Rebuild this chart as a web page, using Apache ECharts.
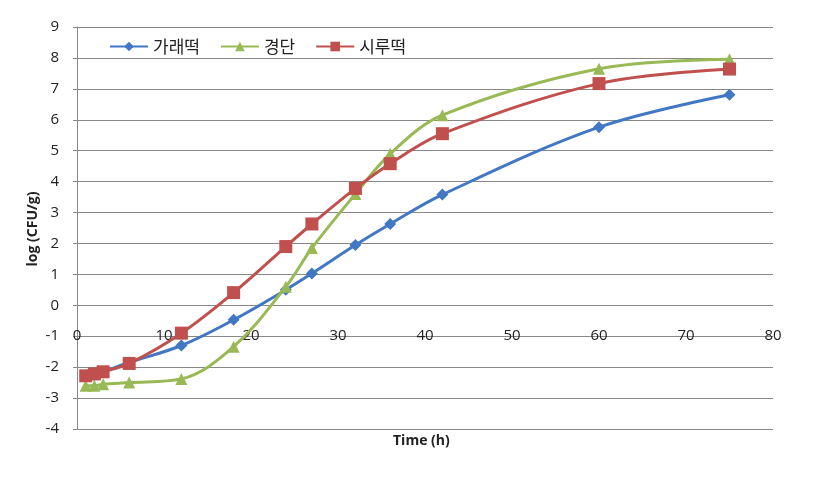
<!DOCTYPE html>
<html>
<head>
<meta charset="utf-8">
<script src="https://cdn.jsdelivr.net/npm/echarts@6/dist/echarts.min.js"></script>
<style>html,body{margin:0;padding:0;background:#fff}#c{width:817px;height:478px}</style>
</head>
<body>
<div id="c"></div>
<script>
const timeH = [1, 2, 3, 6, 12, 18, 24, 27, 32, 36, 42, 60, 75];
const garae = [-2.3, -2.25, -2.15, -1.85, -1.3, -0.47, 0.5, 1.03, 1.95, 2.63, 3.58, 5.76, 6.81];
const gyeongdan = [-2.6, -2.6, -2.55, -2.5, -2.38, -1.34, 0.6, 1.85, 3.6, 4.9, 6.15, 7.65, 7.96];
const siru = [-2.28, -2.22, -2.15, -1.88, -0.9, 0.41, 1.9, 2.63, 3.78, 4.58, 5.55, 7.17, 7.64];
const seriesNames = ['가래떡', '경단', '시루떡'];
const xTitle = 'Time (h)';
const yTitle = 'log (CFU/g)';

const pairs = arr => timeH.map((t, i) => [t, arr[i]]);
const chart = echarts.init(document.getElementById('c'), null, {renderer: 'canvas'});
const labelFont = {fontFamily: 'Open Sans, sans-serif', fontSize: 15, color: '#222'};
chart.setOption({
  animation: false,
  grid: {left: 77, right: 44, top: 27, bottom: 49},
  legend: {
    left: 104, top: 33,
    itemWidth: 38, itemHeight: 12, itemGap: 20,
    textStyle: {fontFamily: 'Noto Sans CJK KR', fontSize: 17, color: '#222'},
    data: seriesNames
  },
  xAxis: {
    type: 'value', min: 0, max: 80, interval: 10,
    offset: -95,
    axisLine: {show: false},
    axisTick: {show: false},
    splitLine: {show: false},
    axisLabel: Object.assign({margin: 2, verticalAlign: 'middle'}, labelFont)
  },
  yAxis: {
    type: 'value', min: -4, max: 9, interval: 1,
    axisLine: {show: true, lineStyle: {color: '#888', width: 1}},
    axisTick: {show: true, length: 4, lineStyle: {color: '#888'}},
    splitLine: {show: true, lineStyle: {color: '#888', width: 1}},
    axisLabel: Object.assign({margin: 18}, labelFont)
  },
  graphic: [
    {type: 'text', left: 393, top: 434, style: {text: xTitle, font: 'bold 14px "Open Sans", sans-serif', fill: '#222'}},
    {type: 'text', x: 33, y: 229, rotation: Math.PI / 2, style: {text: yTitle, font: 'bold 14px "Open Sans", sans-serif', fill: '#222', align: 'center', verticalAlign: 'middle'}}
  ],
  series: [
    {name: seriesNames[0], type: 'line', smooth: 0.35, data: pairs(garae), symbol: 'diamond', symbolSize: 12,
     itemStyle: {color: '#4277c4'}, lineStyle: {width: 3, color: '#4277c4'}, z: 3},
    {name: seriesNames[1], type: 'line', smooth: 0.35, data: pairs(gyeongdan), symbol: 'triangle', symbolSize: 12,
     itemStyle: {color: '#98b954'}, lineStyle: {width: 3, color: '#98b954'}, z: 4},
    {name: seriesNames[2], type: 'line', smooth: 0.35, data: pairs(siru), symbol: 'rect', symbolSize: 13,
     itemStyle: {color: '#c0504d'}, lineStyle: {width: 3, color: '#c0504d'}, z: 5}
  ]
});
</script>
</body>
</html>
